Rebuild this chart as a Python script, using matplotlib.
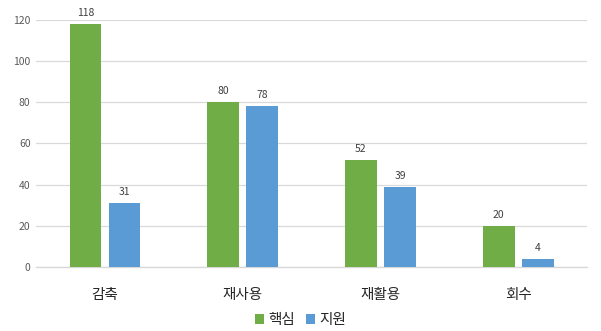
import matplotlib
matplotlib.use("Agg")
import matplotlib.pyplot as plt
import numpy as np

plt.rcParams['font.family'] = ['Noto Sans CJK KR', 'DejaVu Sans']

categories = ['감축', '재사용', '재활용', '회수']
core = [118, 80, 52, 20]
support = [31, 78, 39, 4]
series_names = ['핵심', '지원']
colors = ['#70AD47', '#5B9BD5']

fig = plt.figure(figsize=(6.01, 3.31), dpi=100)
ax = fig.add_axes([0.060, 0.193, 0.917, 0.747])

x = np.arange(len(categories))
w = 0.23
off = 0.142
b1 = ax.bar(x - off, core, w, color=colors[0], label=series_names[0], zorder=3)
b2 = ax.bar(x + off, support, w, color=colors[1], label=series_names[1], zorder=3)

for bars, vals in ((b1, core), (b2, support)):
    for r, v in zip(bars, vals):
        ax.text(r.get_x() + r.get_width() / 2, v + 3, str(v), ha='center', va='bottom',
                fontsize=7.5, color='#404040')

ax.set_xlim(-0.5, len(categories) - 0.5)
ax.set_ylim(0, 120)
ax.set_yticks(range(0, 121, 20))
ax.yaxis.grid(True, color='#D9D9D9', linewidth=0.9, zorder=0)
ax.set_axisbelow(True)
for s in ['top', 'right', 'left']:
    ax.spines[s].set_visible(False)
ax.spines['bottom'].set_color('#D9D9D9')
ax.spines['bottom'].set_linewidth(1.0)
ax.tick_params(axis='y', length=0, labelsize=7.5, labelcolor='#595959', pad=4)
ax.tick_params(axis='x', length=0, labelsize=10.5, labelcolor='#262626', pad=15)
ax.set_xticks(x)
ax.set_xticklabels(categories, fontweight='medium')

leg = fig.legend(handles=[b1, b2], labels=series_names, loc='center', bbox_to_anchor=(0.5, 0.033),
                 ncol=2, frameon=False, fontsize=10.5, handlelength=0.6, handleheight=0.6,
                 handletextpad=0.3, columnspacing=0.8)
for t in leg.get_texts():
    t.set_fontweight('medium')
    t.set_color('#262626')

fig.savefig('out.png', dpi=100)
